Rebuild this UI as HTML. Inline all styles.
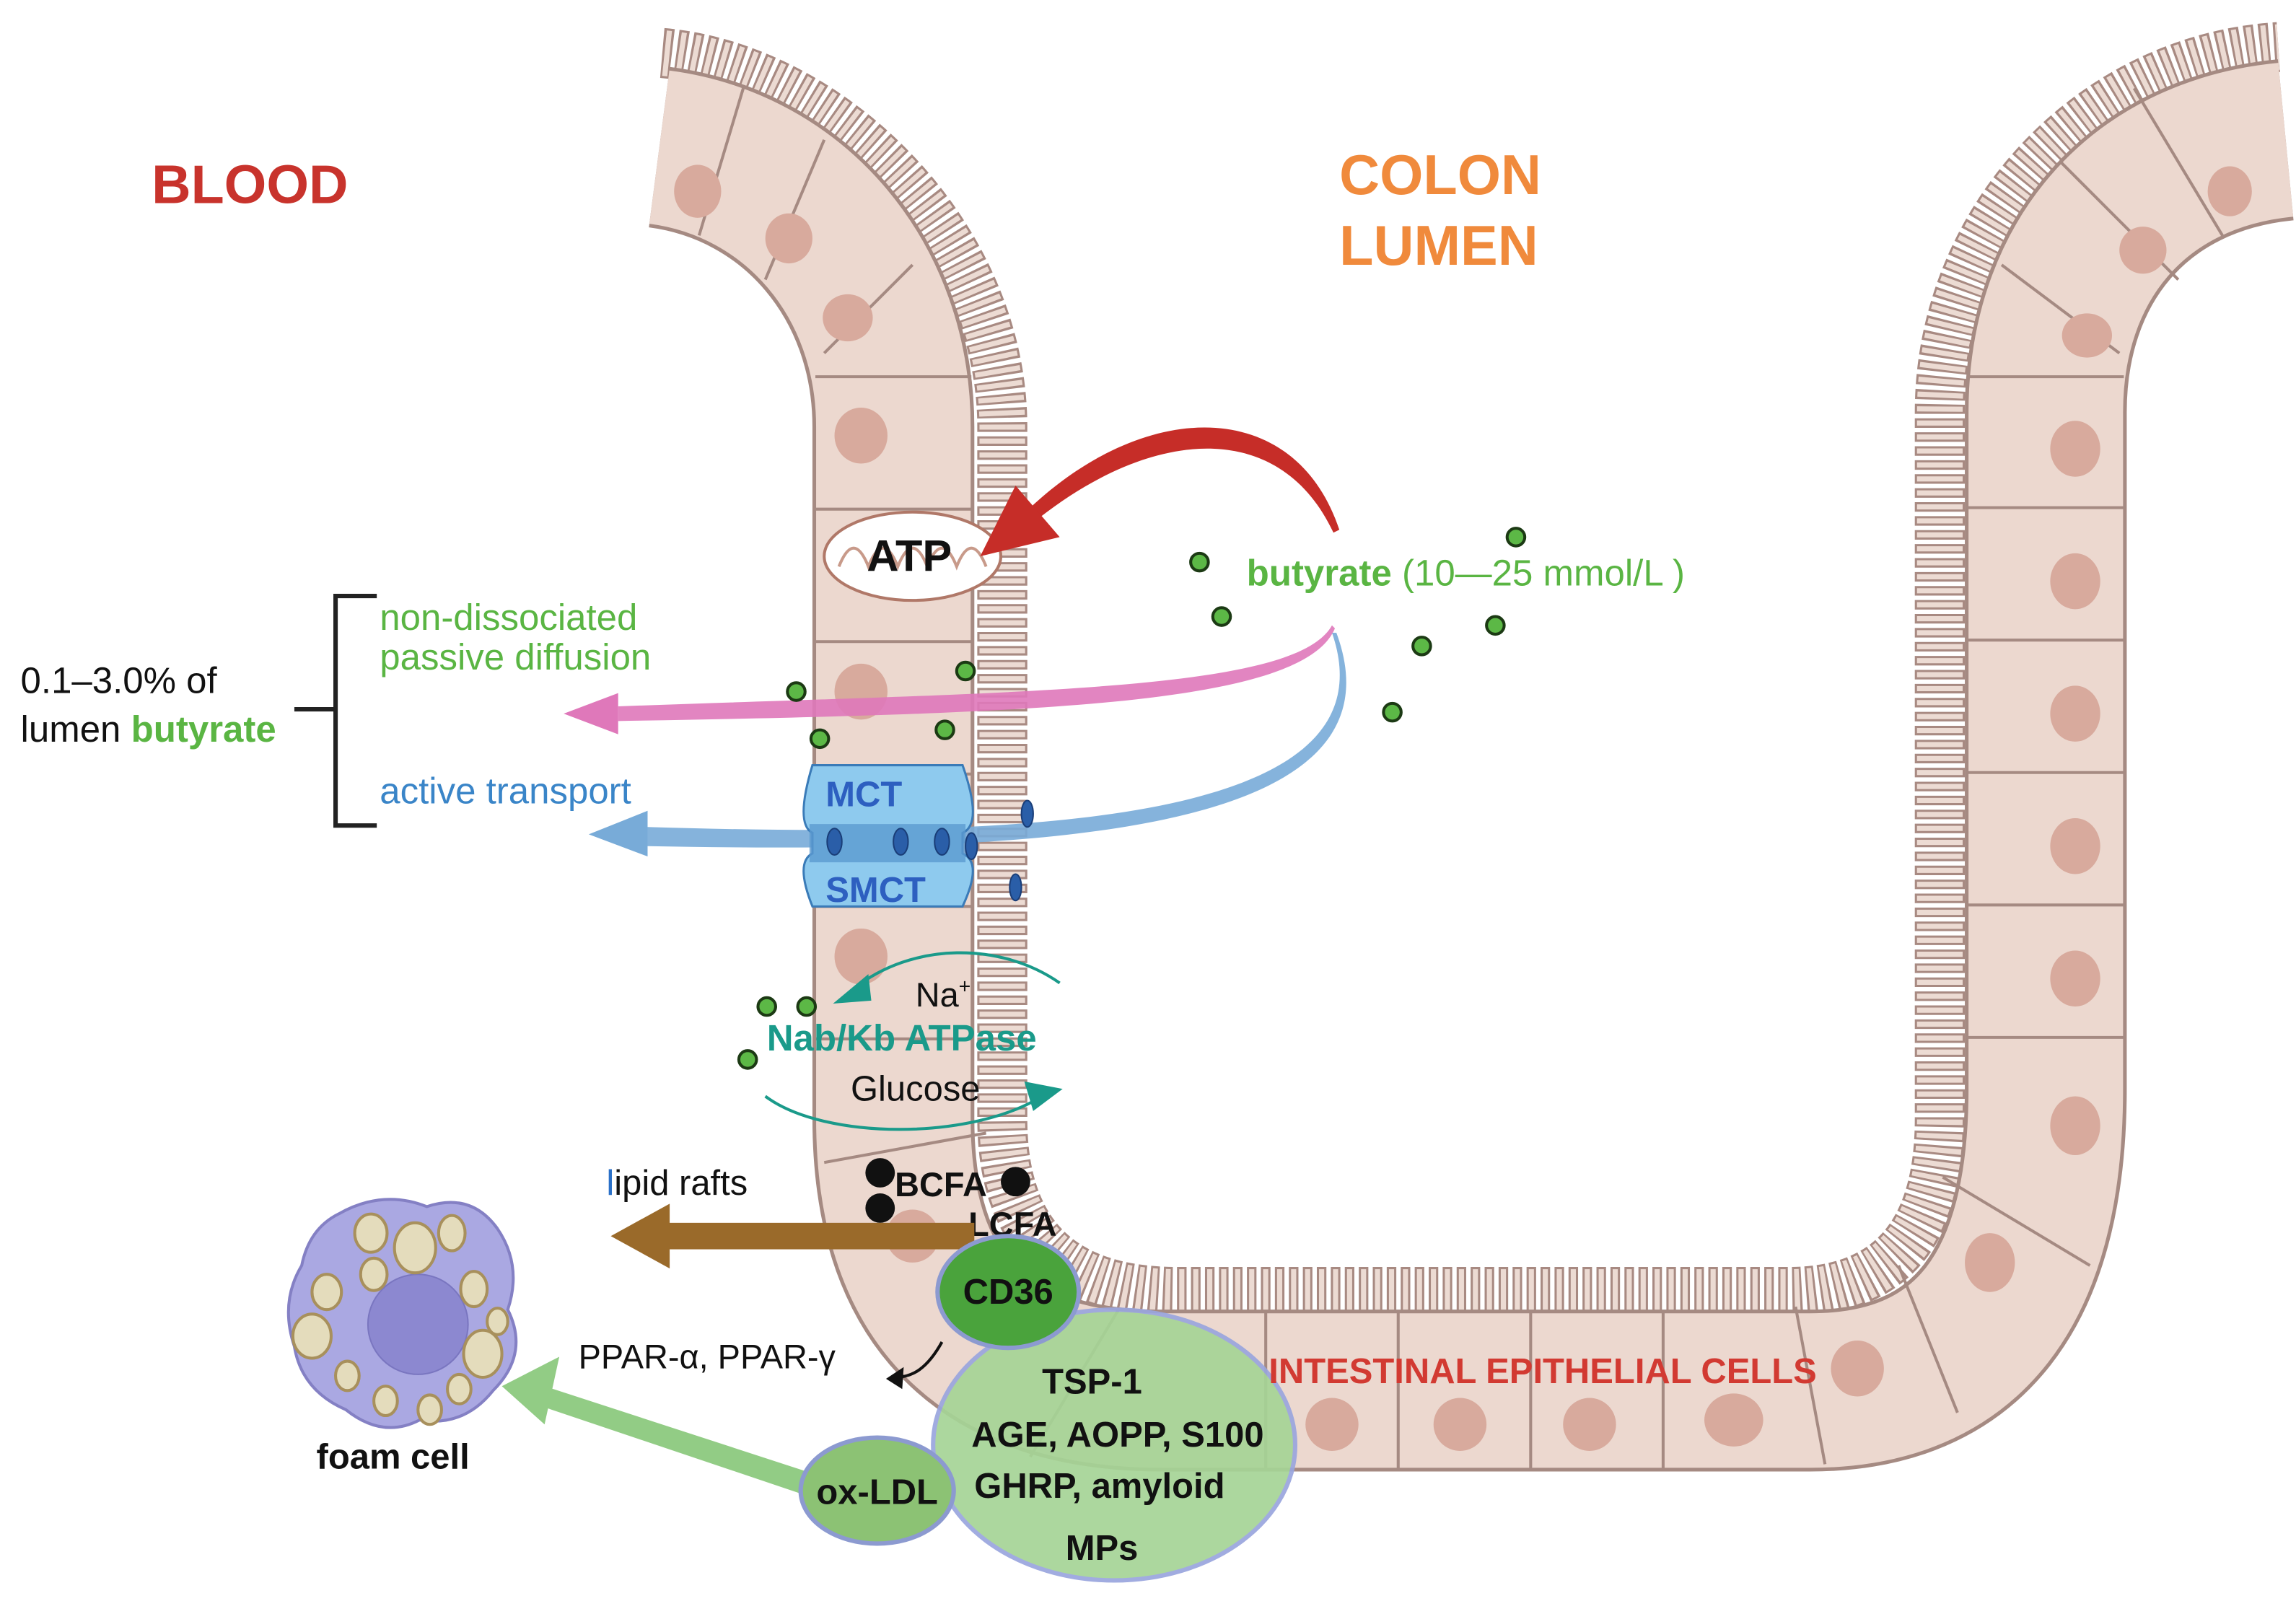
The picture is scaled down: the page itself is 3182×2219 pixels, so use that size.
<!DOCTYPE html>
<html><head><meta charset="utf-8"><style>
html,body{margin:0;padding:0;background:#fff}
svg{display:block}
text{font-family:"Liberation Sans",Arial,sans-serif}
</style></head><body>
<svg width="3182" height="2219" viewBox="0 0 1560 1088" preserveAspectRatio="none" xmlns="http://www.w3.org/2000/svg">
<rect width="1560" height="1088" fill="#fff"/>
<!-- microvilli -->
<path d="M450,36 C565,46 681,160 681,290 L681,760 Q681,878 800,878 L1215,878 Q1318,878 1318,760 L1318,280 C1318,150 1420,40 1548,32" fill="none" stroke="#a88a82" stroke-width="34" stroke-dasharray="6.5 3"/>
<path d="M450,36 C565,46 681,160 681,290 L681,760 Q681,878 800,878 L1215,878 Q1318,878 1318,760 L1318,280 C1318,150 1420,40 1548,32" fill="none" stroke="#ecdbd3" stroke-width="31" stroke-dasharray="3.5 6" stroke-dashoffset="-1.5"/>
<!-- cell band -->
<path d="M448,100 C540,112 607,190 607,290 L607,760 Q607,945 790,945 L1230,945 Q1390,945 1390,740 L1390,280 C1390,180 1450,105 1553,95" fill="none" stroke="#a58a82" stroke-width="110"/>
<path d="M448,100 C540,112 607,190 607,290 L607,760 Q607,945 790,945 L1230,945 Q1390,945 1390,740 L1390,280 C1390,180 1450,105 1553,95" fill="none" stroke="#ecd8cf" stroke-width="105"/>
<g stroke="#a58a82" stroke-width="2" fill="none">
<line x1="554" y1="256" x2="660" y2="256"/><line x1="554" y1="346" x2="660" y2="346"/>
<line x1="554" y1="436" x2="660" y2="436"/><line x1="554" y1="526" x2="660" y2="526"/>
<line x1="554" y1="616" x2="660" y2="616"/><line x1="554" y1="706" x2="660" y2="706"/>
<line x1="560" y1="790" x2="670" y2="770"/>
<line x1="505" y1="60" x2="475" y2="160"/><line x1="560" y1="95" x2="520" y2="190"/><line x1="620" y1="180" x2="560" y2="240"/>
<line x1="860" y1="892" x2="860" y2="998"/><line x1="950" y1="892" x2="950" y2="998"/>
<line x1="1040" y1="892" x2="1040" y2="998"/><line x1="1130" y1="892" x2="1130" y2="998"/>
<line x1="1220" y1="888" x2="1240" y2="995"/><line x1="1290" y1="860" x2="1330" y2="960"/>
<line x1="1320" y1="800" x2="1420" y2="860"/><line x1="1337" y1="705" x2="1443" y2="705"/>
<line x1="1337" y1="615" x2="1443" y2="615"/><line x1="1337" y1="525" x2="1443" y2="525"/>
<line x1="1337" y1="435" x2="1443" y2="435"/><line x1="1337" y1="345" x2="1443" y2="345"/>
<line x1="1337" y1="256" x2="1443" y2="256"/>
<line x1="1360" y1="180" x2="1440" y2="240"/><line x1="1400" y1="110" x2="1480" y2="190"/><line x1="1450" y1="60" x2="1510" y2="160"/>
<line x1="760" y1="890" x2="700" y2="990"/>
</g>
<g fill="#d8aa9d">
<ellipse cx="474" cy="130" rx="16" ry="18"/><ellipse cx="536" cy="162" rx="16" ry="17"/><ellipse cx="576" cy="216" rx="17" ry="16"/>
<ellipse cx="585" cy="296" rx="18" ry="19"/><ellipse cx="585" cy="470" rx="18" ry="19"/><ellipse cx="585" cy="650" rx="18" ry="19"/>
<ellipse cx="620" cy="840" rx="18" ry="18"/>
<ellipse cx="905" cy="968" rx="18" ry="18"/><ellipse cx="992" cy="968" rx="18" ry="18"/><ellipse cx="1080" cy="968" rx="18" ry="18"/>
<ellipse cx="1178" cy="965" rx="20" ry="18"/><ellipse cx="1262" cy="930" rx="18" ry="19"/><ellipse cx="1352" cy="858" rx="17" ry="20"/>
<ellipse cx="1410" cy="765" rx="17" ry="20"/><ellipse cx="1410" cy="665" rx="17" ry="19"/><ellipse cx="1410" cy="575" rx="17" ry="19"/>
<ellipse cx="1410" cy="485" rx="17" ry="19"/><ellipse cx="1410" cy="395" rx="17" ry="19"/><ellipse cx="1410" cy="305" rx="17" ry="19"/>
<ellipse cx="1418" cy="228" rx="17" ry="15"/><ellipse cx="1456" cy="170" rx="16" ry="16"/><ellipse cx="1515" cy="130" rx="15" ry="17"/>
</g>
<!-- labels -->
<text x="103" y="138" font-size="37" font-weight="bold" fill="#c8332c">BLOOD</text>
<text x="910" y="132" font-size="38" font-weight="bold" fill="#f08a3c">COLON</text>
<text x="910" y="180" font-size="38" font-weight="bold" fill="#f08a3c">LUMEN</text>
<!-- mitochondrion -->
<ellipse cx="620" cy="378" rx="60" ry="30" fill="#fff" stroke="#b07868" stroke-width="2"/>
<path d="M570,385 q10,-25 20,0 q10,-25 20,0 q10,-25 20,0 q10,-25 20,0 q10,-25 20,0" fill="none" stroke="#c89a8a" stroke-width="2"/>
<text x="589" y="388" font-size="30" font-weight="bold" fill="#111">ATP</text>
<!-- red arrow -->
<path d="M910,360 C880,270 780,270 700,345 L706,352 C785,290 870,285 906,362 Z" fill="#c62d28"/>
<polygon points="666,378 690,330 720,365" fill="#c62d28"/>
<!-- pink arrow -->
<path d="M905,425 C880,470 700,470 420,480 L420,490 C700,485 885,480 907,427 Z" fill="#df78ba" opacity="0.9"/>
<polygon points="383,485 420,471 420,499" fill="#df78ba"/>
<!-- blue arrow -->
<path d="M905,430 C950,560 700,570 440,562 L440,575 C700,580 960,570 908,430 Z" fill="#78abd8" opacity="0.9"/>
<polygon points="400,567 440,551 440,582" fill="#78abd8"/>
<!-- MCT -->
<path d="M552,520 L654,520 Q668,560 654,566 L654,580 Q668,586 654,616 L552,616 Q540,586 552,580 L552,566 Q540,560 552,520 Z" fill="#8ecaee" stroke="#3a7bb8" stroke-width="1.5"/>
<rect x="550" y="560" width="106" height="26" fill="#5b9ad0" opacity="0.8"/>
<g fill="#2a5ea8" stroke="#1a3e78" stroke-width="1">
<ellipse cx="567" cy="572" rx="5" ry="9"/><ellipse cx="612" cy="572" rx="5" ry="9"/><ellipse cx="640" cy="572" rx="5" ry="9"/>
<ellipse cx="698" cy="553" rx="4" ry="9"/><ellipse cx="690" cy="603" rx="4" ry="9"/><ellipse cx="660" cy="575" rx="4" ry="9"/>
</g>
<text x="561" y="548" font-size="24" font-weight="bold" fill="#2d5fc0">MCT</text>
<text x="561" y="613" font-size="24" font-weight="bold" fill="#2d5fc0">SMCT</text>
<!-- green dots -->
<g fill="#5cb846" stroke="#1c3a14" stroke-width="2">
<circle cx="815" cy="382" r="6"/><circle cx="830" cy="419" r="6"/><circle cx="1030" cy="365" r="6"/>
<circle cx="966" cy="439" r="6"/><circle cx="1016" cy="425" r="6"/><circle cx="946" cy="484" r="6"/>
<circle cx="541" cy="470" r="6"/><circle cx="656" cy="456" r="6"/><circle cx="557" cy="502" r="6"/>
<circle cx="642" cy="496" r="6"/><circle cx="521" cy="684" r="6"/><circle cx="548" cy="684" r="6"/><circle cx="508" cy="720" r="6"/>
</g>
<text x="847" y="398" font-size="25" fill="#5ab543"><tspan font-weight="bold">butyrate</tspan> (10—25 mmol/L )</text>
<!-- bracket -->
<path d="M256,405 L228,405 L228,561 L256,561 M228,482 L200,482" fill="none" stroke="#222" stroke-width="3"/>
<text x="258" y="428" font-size="25" fill="#5ab543">non-dissociated</text>
<text x="258" y="455" font-size="25" fill="#5ab543">passive diffusion</text>
<text x="258" y="546" font-size="25" fill="#3a85c8">active transport</text>
<text x="14" y="471" font-size="25" fill="#111">0.1–3.0% of</text>
<text x="14" y="504" font-size="25" fill="#111">lumen <tspan font-weight="bold" fill="#5ab543">butyrate</tspan></text>
<!-- Na/K -->
<path d="M720,668 C680,640 620,640 580,672" fill="none" stroke="#1a9a8a" stroke-width="2"/>
<polygon points="566,682 590,662 592,680" fill="#1a9a8a"/>
<path d="M520,745 C560,775 660,775 708,745" fill="none" stroke="#1a9a8a" stroke-width="2"/>
<polygon points="722,740 696,735 702,755" fill="#1a9a8a"/>
<text x="622" y="684" font-size="23" fill="#111">Na<tspan font-size="14" dy="-9">+</tspan></text>
<text x="521" y="714" font-size="25" font-weight="bold" fill="#1a9a8a">Nab/Kb ATPase</text>
<text x="578" y="748" font-size="24" fill="#111">Glucose</text>
<!-- BCFA -->
<g fill="#111"><circle cx="598" cy="797" r="10"/><circle cx="598" cy="821" r="10"/><circle cx="690" cy="803" r="10"/></g>
<text x="608" y="813" font-size="23" font-weight="bold" fill="#111">BCFA</text>
<text x="658" y="840" font-size="23" font-weight="bold" fill="#111">LCFA</text>
<text x="412" y="812" font-size="24" fill="#111"><tspan fill="#2a70c8">l</tspan>ipid rafts</text>
<rect x="450" y="831" width="212" height="18" fill="#9a6a2a"/>
<polygon points="415,840 455,818 455,862" fill="#9a6a2a"/>
<!-- green arrow -->
<path d="M548,1000 L370,942 L366,955 L544,1015 Z" fill="#92cc85"/>
<polygon points="341,942 380,922 370,968" fill="#92cc85"/>
<!-- big ellipse -->
<ellipse cx="757" cy="982" rx="123" ry="92" fill="#a6d496" stroke="#9aa6de" stroke-width="3" opacity="0.92"/>
<ellipse cx="685" cy="878" rx="48" ry="38" fill="#4aa33c" stroke="#8c9ad0" stroke-width="3"/>
<ellipse cx="596" cy="1013" rx="52" ry="36" fill="#8cc274" stroke="#8c9ad0" stroke-width="3"/>
<text x="685" y="886" font-size="24" font-weight="bold" fill="#111" text-anchor="middle">CD36</text>
<text x="596" y="1022" font-size="24" font-weight="bold" fill="#111" text-anchor="middle">ox-LDL</text>
<text x="708" y="947" font-size="24" font-weight="bold" fill="#111">TSP-1</text>
<text x="660" y="983" font-size="24" font-weight="bold" fill="#111">AGE, AOPP, S100</text>
<text x="662" y="1018" font-size="24" font-weight="bold" fill="#111">GHRP, amyloid</text>
<text x="724" y="1060" font-size="24" font-weight="bold" fill="#111">MPs</text>
<text x="862" y="940" font-size="24" font-weight="bold" fill="#d23a32">INTESTINAL EPITHELIAL CELLS</text>
<!-- PPAR -->
<text x="393" y="930" font-size="23" fill="#111">PPAR-α, PPAR-γ</text>
<path d="M640,912 C630,930 620,936 608,936" fill="none" stroke="#111" stroke-width="2"/>
<polygon points="602,937 614,929 613,944" fill="#111"/>
<!-- foam cell -->
<path d="M230,825 Q260,808 290,820 Q320,810 338,835 Q355,860 345,890 Q360,920 335,945 Q315,970 285,965 Q260,978 235,958 Q205,945 200,915 Q190,885 205,860 Q210,835 230,825 Z" fill="#aaa8e2" stroke="#8480c4" stroke-width="2"/>
<circle cx="284" cy="900" r="34" fill="#8c88d0" stroke="#7a76c0"/>
<g fill="#e4dcbc" stroke="#a8905c" stroke-width="2">
<ellipse cx="252" cy="838" rx="11" ry="13"/><ellipse cx="282" cy="848" rx="14" ry="17"/><ellipse cx="307" cy="838" rx="9" ry="12"/>
<ellipse cx="254" cy="866" rx="9" ry="11"/><ellipse cx="322" cy="876" rx="9" ry="12"/><ellipse cx="222" cy="878" rx="10" ry="12"/>
<ellipse cx="212" cy="908" rx="13" ry="15"/><ellipse cx="328" cy="920" rx="13" ry="16"/><ellipse cx="236" cy="935" rx="8" ry="10"/>
<ellipse cx="262" cy="952" rx="8" ry="10"/><ellipse cx="292" cy="958" rx="8" ry="10"/><ellipse cx="312" cy="944" rx="8" ry="10"/>
<ellipse cx="338" cy="898" rx="7" ry="9"/>
</g>
<text x="215" y="998" font-size="24" font-weight="bold" fill="#111">foam cell</text>
</svg>
</body></html>
